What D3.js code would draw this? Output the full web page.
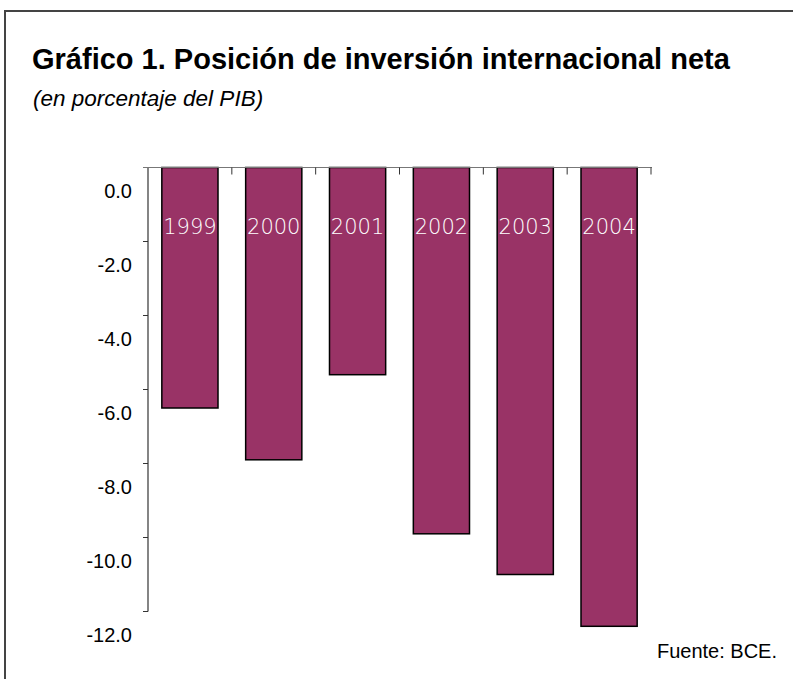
<!DOCTYPE html>
<html>
<head>
<meta charset="utf-8">
<script src="https://cdn.jsdelivr.net/npm/d3@7"></script>
<style>
  body { margin: 0; background: #fff; }
  text { font-family: "Liberation Sans", Arial, sans-serif; }
</style>
</head>
<body>
<svg width="793" height="679"></svg>

<script>

var years = ["1999", "2000", "2001", "2002", "2003", "2004"];
var values = [-6.5, -7.9, -5.6, -9.9, -11.0, -12.4];
var yTicks = [0, -2, -4, -6, -8, -10, -12];

var svg = d3.select("svg");

// frame (only left and top edges are in view)
svg.append("path")
    .attr("d", "M5,679V11H793")
    .attr("fill", "none")
    .attr("stroke", "#444")
    .attr("stroke-width", 2);

svg.append("text")
    .attr("x", 32)
    .attr("y", 69)
    .attr("font-size", 29)
    .attr("font-weight", "bold")
    .text("Gráfico 1. Posición de inversión internacional neta");

svg.append("text")
    .attr("x", 33)
    .attr("y", 106)
    .attr("font-size", 22.5)
    .attr("font-style", "italic")
    .text("(en porcentaje del PIB)");

var x = d3.scaleBand()
    .domain(years)
    .range([148, 651])
    .paddingInner(0.33)
    .paddingOuter(0.165);

var y = d3.scaleLinear()
    .domain([0, -12])
    .range([167.5, 611.5]);

// bars
svg.append("g")
  .selectAll("rect")
  .data(values)
  .enter().append("rect")
    .attr("x", function(d, i) { return x(years[i]); })
    .attr("y", y(0))
    .attr("width", x.bandwidth())
    .attr("height", function(d) { return y(d) - y(0); })
    .attr("fill", "#993366")
    .attr("stroke", "#000")
    .attr("stroke-width", 1.5);

// year labels inside bars
svg.append("g")
  .selectAll("text")
  .data(years)
  .enter().append("text")
    .attr("x", function(d) { return x(d) + x.bandwidth() / 2; })
    .attr("y", 234)
    .attr("text-anchor", "middle")
    .attr("fill", "#fff")
    .attr("font-size", 21)
    .attr("font-weight", 300)
    .style("font-family", "'DejaVu Sans', sans-serif")
    .text(function(d) { return d; });

// y axis: ticks on the line, labels sit below their tick
var yAxis = svg.append("g");
yAxis.append("line")
    .attr("x1", 148).attr("x2", 148)
    .attr("y1", y(0)).attr("y2", y(-12))
    .attr("stroke", "#333")
    .attr("stroke-width", 1.2);
yAxis.selectAll(".tick")
  .data(yTicks)
  .enter().append("line")
    .attr("x1", 143).attr("x2", 148)
    .attr("y1", function(d) { return y(d); })
    .attr("y2", function(d) { return y(d); })
    .attr("stroke", "#333");
yAxis.selectAll("text")
  .data(yTicks)
  .enter().append("text")
    .attr("x", 132)
    .attr("y", function(d) { return y(d) + 30; })
    .attr("text-anchor", "end")
    .attr("font-size", 20)
    .text(function(d) { return d3.format(".1f")(d).replace("−", "-"); });

// x axis at zero with ticks at the band edges
var edges = years.map(function(d) { return x(d) - x.step() * x.paddingInner() / 2; })
    .concat([x.range()[1]]);
svg.append("line")
    .attr("x1", 143).attr("x2", 652)
    .attr("y1", y(0)).attr("y2", y(0))
    .attr("stroke", "#777")
    .attr("stroke-width", 1.2);
svg.append("g")
  .selectAll("line")
  .data(edges.slice(1))
  .enter().append("line")
    .attr("x1", function(d) { return d; })
    .attr("x2", function(d) { return d; })
    .attr("y1", y(0))
    .attr("y2", y(0) + 7)
    .attr("stroke", "#333");

svg.append("text")
    .attr("x", 777)
    .attr("y", 658)
    .attr("text-anchor", "end")
    .attr("font-size", 20)
    .text("Fuente: BCE.");

</script>

</body>
</html>
